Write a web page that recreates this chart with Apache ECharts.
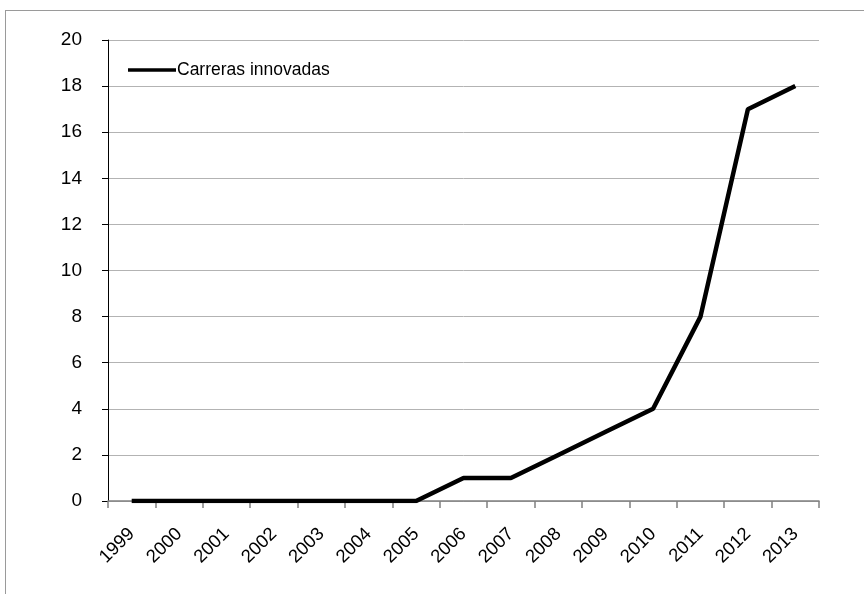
<!DOCTYPE html>
<html>
<head>
<meta charset="utf-8">
<script src="https://cdn.jsdelivr.net/npm/echarts@6/dist/echarts.min.js"></script>
<style>
  html, body { margin: 0; padding: 0; background: #fff; }
  #frame { position: absolute; left: 5px; top: 10px; width: 900px; height: 700px; border: 1px solid #9a9a9a; }
  #chart { position: absolute; left: 0; top: 0; width: 864px; height: 594px; }
</style>
</head>
<body>
<div id="frame"></div>
<div id="chart"></div>
<script>
// datos
var years = ['1999', '2000', '2001', '2002', '2003', '2004', '2005', '2006', '2007', '2008', '2009', '2010', '2011', '2012', '2013'];
var carreras = [0, 0, 0, 0, 0, 0, 0, 1, 1, 2, 3, 4, 8, 17, 18];
var seriesName = 'Carreras innovadas';

var chart = echarts.init(document.getElementById('chart'));
var font = '"Liberation Sans Narrow", "Liberation Sans", Arial, sans-serif';

var option = {
    animation: false,
    grid: { left: 108, right: 45, top: 40, bottom: 93 },
    legend: {
        left: 123,
        top: 56,
        itemWidth: 48,
        itemHeight: 20,
        itemGap: 4,
        icon: 'path://M0,8.5 L48,8.5 L48,12 L0,12 Z',
        textStyle: { fontFamily: font, fontSize: 17.5, color: '#000', padding: [0, 0, 0, -4] },
        data: [seriesName]
    },
    xAxis: {
        type: 'category',
        data: years,
        boundaryGap: true,
        axisLine: { lineStyle: { color: '#808080', width: 1.5 } },
        axisTick: { show: true, length: 7, lineStyle: { color: '#808080', width: 1.5 } },
        axisLabel: { rotate: 45, fontFamily: font, fontSize: 18.5, color: '#000', margin: 30 }
    },
    yAxis: {
        type: 'value',
        min: 0,
        max: 20,
        interval: 2,
        axisLine: { show: true, lineStyle: { color: '#000', width: 1 } },
        axisTick: { show: true, length: 6, lineStyle: { color: '#000' } },
        axisLabel: { fontFamily: font, fontSize: 19, color: '#000', margin: 26 },
        splitLine: { lineStyle: { color: '#b3b3b3', width: 1 } }
    },
    series: [{
        name: seriesName,
        type: 'line',
        data: carreras,
        showSymbol: false,
        symbol: 'none',
        lineStyle: { color: '#000', width: 4.5 },
        itemStyle: { color: '#000' }
    }]
};

chart.setOption(option);
</script>
</body>
</html>
